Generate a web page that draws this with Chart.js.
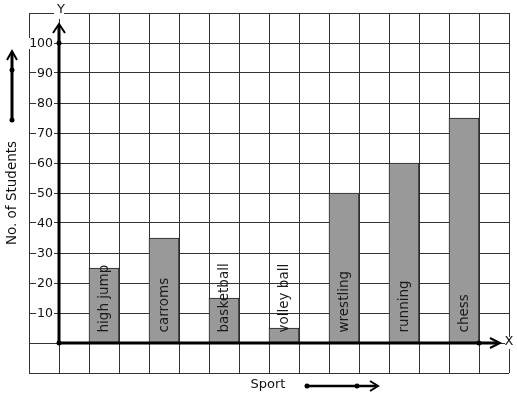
<!DOCTYPE html>
<html>
<head>
<meta charset="utf-8">
<script src="https://cdn.jsdelivr.net/npm/chart.js@4.4.1/dist/chart.umd.min.js"></script>
<style>
  body { margin: 0; background: #fff; }
  canvas { display: block; }
</style>
</head>
<body>
<canvas id="grafico" width="517" height="399"></canvas>
<script>
// datos del grafico
const sports = ["high jump", "carroms", "basketball", "volley ball", "wrestling", "running", "chess"];
const students = [25, 35, 15, 5, 50, 60, 75];
const yTickLabels = [10, 20, 30, 40, 50, 60, 70, 80, 90, 100];

const FONT = "'DejaVu Sans', sans-serif";
const INK = "#111";

// cada deporte ocupa una columna, con una columna vacia entre ellos
const barPoints = students.map((v, i) => ({ x: 1.5 + 2 * i, y: v }));

function arrowHead(ctx, tipX, tipY, dx, dy) {
    ctx.beginPath();
    ctx.moveTo(tipX + dx[0], tipY + dy[0]);
    ctx.lineTo(tipX, tipY);
    ctx.lineTo(tipX + dx[1], tipY + dy[1]);
    ctx.stroke();
}

function dot(ctx, x, y) {
    ctx.beginPath();
    ctx.arc(x, y, 2.5, 0, Math.PI * 2);
    ctx.fill();
}

const decoraciones = {
    id: "decoraciones",
    afterDraw(chart) {
        const ctx = chart.ctx;
        const xs = chart.scales.x;
        const ys = chart.scales.y;
        const ox = xs.getPixelForValue(0);
        const oy = ys.getPixelForValue(0);
        const area = chart.chartArea;

        ctx.save();

        // etiquetas del eje Y con fondo blanco sobre la cuadricula
        ctx.font = "12.5px " + FONT;
        ctx.textAlign = "right";
        ctx.textBaseline = "middle";
        ys.ticks.forEach((t) => {
            if (!yTickLabels.includes(t.value)) return;
            const py = ys.getPixelForValue(t.value);
            const txt = String(t.value);
            const w = ctx.measureText(txt).width;
            ctx.fillStyle = "#fff";
            ctx.fillRect(ox - 6 - w - 1, py - 5, w + 2, 11);
            ctx.fillStyle = INK;
            ctx.fillText(txt, ox - 6, py + 0.5);
        });

        ctx.strokeStyle = "#000";
        ctx.fillStyle = "#000";
        ctx.lineWidth = 3;
        ctx.lineCap = "butt";

        // eje Y
        ctx.beginPath();
        ctx.moveTo(ox, oy);
        ctx.lineTo(ox, area.top + 12);
        ctx.stroke();
        ctx.lineWidth = 2;
        arrowHead(ctx, ox, area.top + 11, [-6, 6], [9, 9]);

        // eje X
        ctx.lineWidth = 3;
        ctx.beginPath();
        ctx.moveTo(ox, oy);
        ctx.lineTo(area.right - 11, oy);
        ctx.stroke();
        ctx.lineWidth = 2;
        arrowHead(ctx, area.right - 9, oy, [-10, -10], [-5, 5]);

        dot(ctx, ox, oy);
        dot(ctx, ox, ys.getPixelForValue(100));
        dot(ctx, xs.getPixelForValue(14), oy);

        // letras X e Y con fondo blanco
        ctx.font = "13px " + FONT;
        ctx.textBaseline = "middle";
        ctx.textAlign = "center";
        ctx.fillStyle = "#fff";
        ctx.fillRect(ox - 5, area.top - 6, 10, 12);
        ctx.fillRect(area.right - 4, oy - 6, 10, 12);
        ctx.fillStyle = INK;
        ctx.fillText("Y", ox + 2, area.top - 3);
        ctx.fillText("X", area.right + 0, oy - 1);

        // nombres dentro de las barras
        const meta = chart.getDatasetMeta(0);
        ctx.font = "13.5px " + FONT;
        ctx.fillStyle = "#1a1a1a";
        meta.data.forEach((bar, i) => {
            ctx.save();
            ctx.translate(bar.x, bar.base - 10);
            ctx.rotate(-Math.PI / 2);
            ctx.textAlign = "left";
            ctx.textBaseline = "middle";
            ctx.fillText(sports[i], 0, 0);
            ctx.restore();
        });

        // titulo vertical y su flecha
        ctx.fillStyle = INK;
        ctx.font = "13.5px " + FONT;
        ctx.save();
        ctx.translate(12, 193);
        ctx.rotate(-Math.PI / 2);
        ctx.textAlign = "center";
        ctx.textBaseline = "middle";
        ctx.fillText("No. of Students", 0, 0);
        ctx.restore();

        ctx.fillStyle = "#000";
        ctx.lineWidth = 3;
        ctx.beginPath();
        ctx.moveTo(12, 120);
        ctx.lineTo(12, 52);
        ctx.stroke();
        ctx.lineWidth = 2;
        arrowHead(ctx, 12, 51, [-5, 5], [9, 9]);
        dot(ctx, 12, 120);
        dot(ctx, 12, 70);

        // titulo horizontal y su flecha
        ctx.fillStyle = INK;
        ctx.font = "13px " + FONT;
        ctx.textAlign = "center";
        ctx.textBaseline = "middle";
        ctx.fillText("Sport", 268, 385);

        ctx.fillStyle = "#000";
        ctx.lineWidth = 2.5;
        ctx.beginPath();
        ctx.moveTo(307, 386);
        ctx.lineTo(376, 386);
        ctx.stroke();
        ctx.lineWidth = 2;
        arrowHead(ctx, 378, 386, [-8, -8], [-5, 5]);
        dot(ctx, 307, 386);
        dot(ctx, 357, 386);

        ctx.restore();
    }
};

const ctx = document.getElementById("grafico").getContext("2d");

new Chart(ctx, {
    type: "bar",
    data: {
        datasets: [{
            label: "No. of Students",
            data: barPoints,
            backgroundColor: "#999999",
            borderColor: "#222",
            borderWidth: 1,
            borderSkipped: false,
            barThickness: 30,
        }],
    },
    options: {
        responsive: false,
        animation: false,
        layout: { padding: { left: 29, right: 8, top: 13, bottom: 26 } },
        plugins: {
            legend: { display: false },
            tooltip: { enabled: false },
        },
        scales: {
            x: {
                type: "linear",
                position: { y: 0 },
                offset: false,
                min: -1,
                max: 15,
                ticks: { display: false, stepSize: 1 },
                grid: { color: "#333", lineWidth: 1, drawTicks: false, offset: false },
                border: { display: false },
            },
            y: {
                type: "linear",
                position: { x: 0 },
                min: -10,
                max: 110,
                ticks: { display: false, stepSize: 10 },
                grid: { color: "#333", lineWidth: 1, drawTicks: false },
                border: { display: false },
            },
        },
    },
    plugins: [decoraciones],
});
</script>
</body>
</html>
